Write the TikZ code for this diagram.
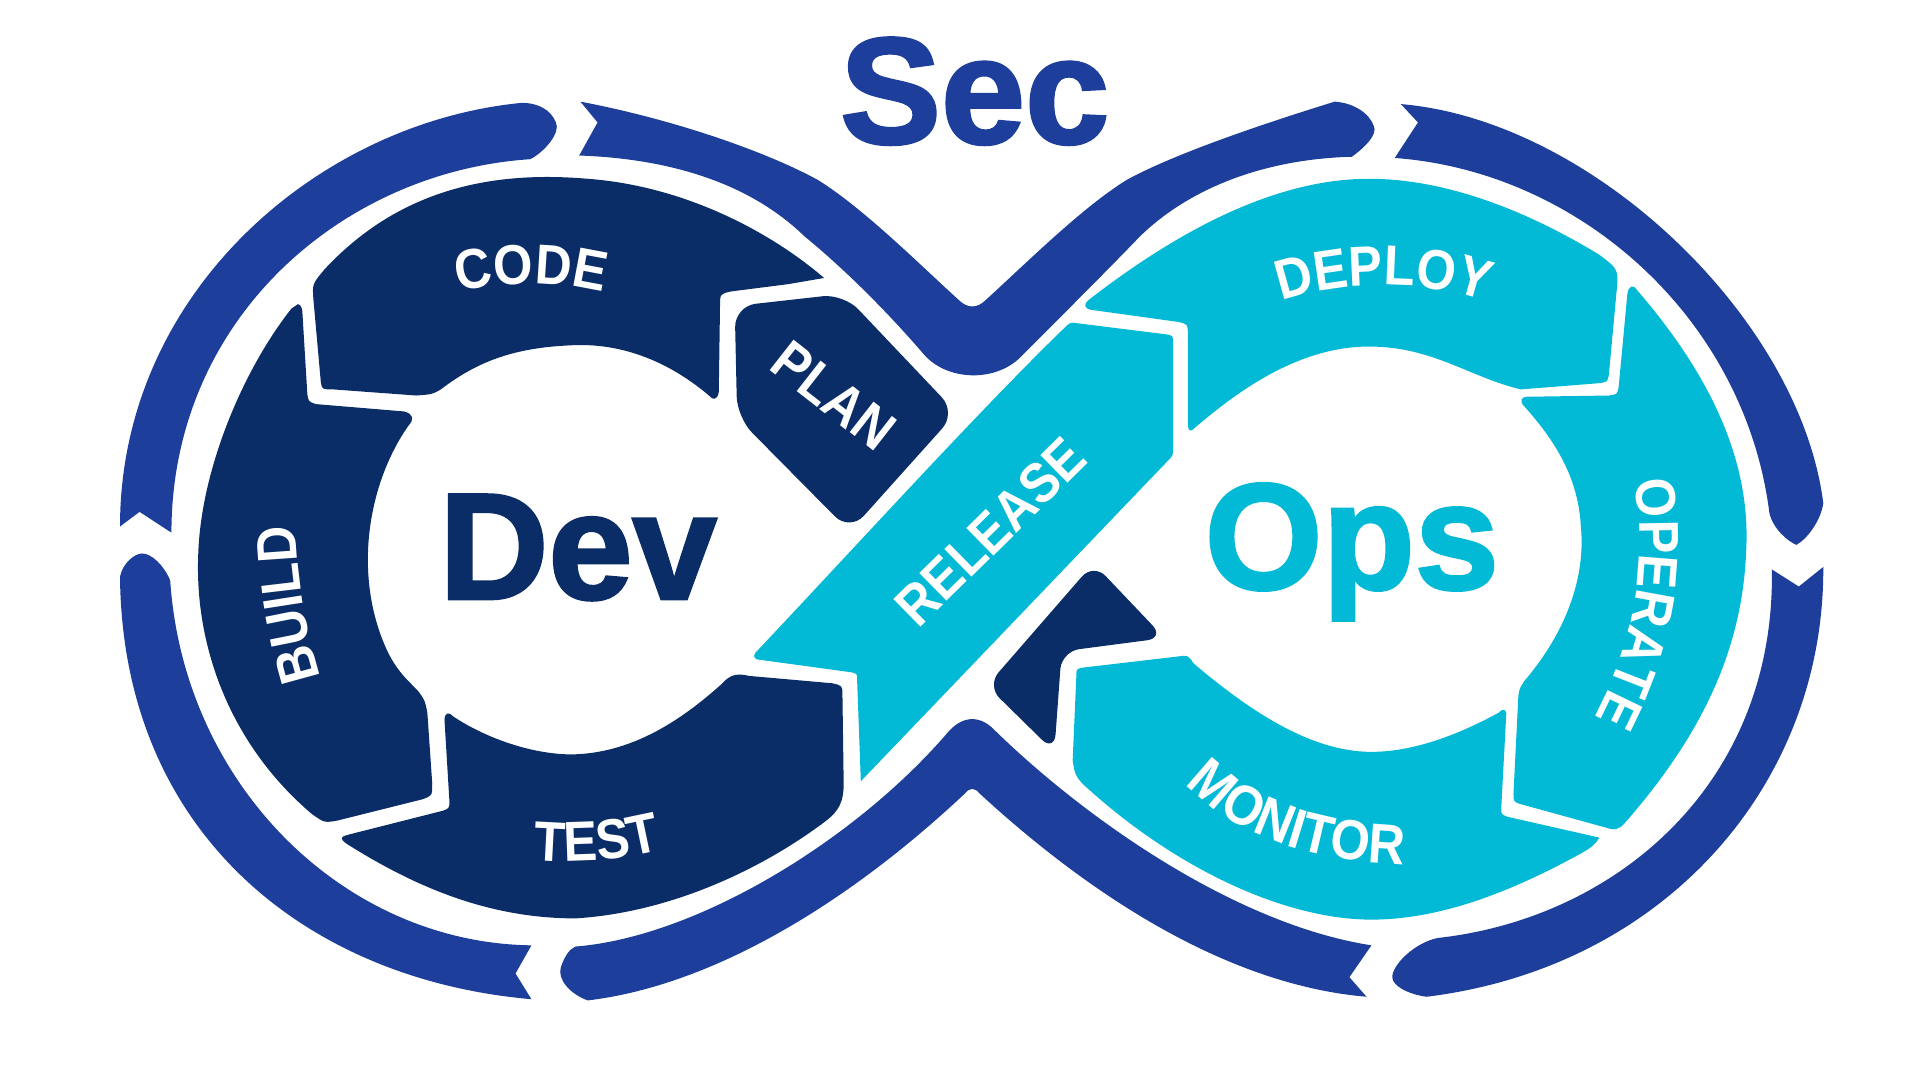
\documentclass[tikz,border=0pt]{standalone}
\usepackage{fontspec}
\setmainfont{Liberation Sans}
\newfontfamily\stagefamily{Liberation Sans}[FakeStretch=0.9]
\newfontfamily\bigfamily{Liberation Sans}[FakeBold=2]
\usetikzlibrary{decorations.text}

\definecolor{secblue}{HTML}{1D3F9B}
\definecolor{devnavy}{HTML}{0A2D67}
\definecolor{opscyan}{HTML}{02B9D6}

\newcommand{\stagefont}{\stagefamily\fontsize{16}{17}\selectfont\bfseries}

\tikzset{
  band/.style={fill=secblue},
  devpart/.style={fill=devnavy},
  opspart/.style={fill=opscyan},
  bigword/.style={font=\bigfamily\fontsize{43}{43}\selectfont\bfseries, inner sep=0pt, anchor=base},
  steptext/.style={font=\stagefont, text=white, inner sep=0pt},
  curvedstep/.style={decorate, decoration={text along path, text align=center, text color=white, text={|\stagefont|#1}}}
}

\begin{document}
\begin{tikzpicture}[x=0.012245cm, y=-0.012245cm]

\useasboundingbox (0,0) rectangle (1568,882);

% outer band, left lobe
\fill[band] (98,430) -- (114,418) -- (140,435) .. controls (140,260) and (280,140) .. (433,130)
  .. controls (445,124) and (458,108) .. (454,100) .. controls (450,90) and (440,84) .. (426,84)
  .. controls (260,100) and (98,239) .. (98,430) -- cycle;
\fill[band] (434,772) -- (421,795) -- (434,816) .. controls (250,800) and (100,680) .. (98,471)
  .. controls (100,460) and (110,452) .. (116,452) .. controls (124,452) and (134,462) .. (139,474)
  .. controls (150,640) and (280,770) .. (434,772) -- cycle;

% outer band, middle
\fill[band] (474,83) -- (488,100) -- (473,127) .. controls (558,130) and (618,155) .. (657,193)
  .. controls (690,220) and (725,255) .. (755,290) .. controls (775,312) and (815,312) .. (835,290)
  .. controls (870,255) and (905,220) .. (931,193) .. controls (970,155) and (1030,130) .. (1104,128)
  .. controls (1115,120) and (1125,110) .. (1122,103) .. controls (1118,92) and (1105,84) .. (1090,83)
  .. controls (1035,100) and (960,125) .. (920,147) .. controls (883,170) and (838,215) .. (805,245)
  .. controls (798,252) and (790,252) .. (783,245) .. controls (750,215) and (705,170) .. (668,147)
  .. controls (628,125) and (553,98) .. (474,83) -- cycle;
\fill[band] (1120,772) -- (1102,798) -- (1116,814) .. controls (1010,805) and (900,740) .. (800,648)
  .. controls (796,643) and (792,643) .. (788,648) .. controls (690,740) and (580,805) .. (480,817)
  .. controls (466,812) and (455,800) .. (458,790) .. controls (461,781) and (465,775) .. (470,773)
  .. controls (570,765) and (700,685) .. (775,597) .. controls (787,584) and (801,584) .. (813,597)
  .. controls (888,670) and (1010,755) .. (1120,772) -- cycle;

% outer band, right lobe
\fill[band] (1144,85) -- (1158,100) -- (1139,129) .. controls (1290,140) and (1425,260) .. (1445,419)
  .. controls (1448,432) and (1460,442) .. (1467,445) .. controls (1476,440) and (1487,425) .. (1489,411)
  .. controls (1470,260) and (1300,98) .. (1144,85) -- cycle;
\fill[band] (1447,465) -- (1469,479) -- (1489,463) .. controls (1490,640) and (1360,790) .. (1165,814)
  .. controls (1150,812) and (1137,805) .. (1137,798) .. controls (1137,788) and (1155,770) .. (1174,766)
  .. controls (1320,750) and (1450,640) .. (1447,465) -- cycle;

% dev ring
\fill[devpart] (262,312) -- (256,245) .. controls (255,232) .. (265,220) .. controls (330,150) and (410,140) .. (480,146)
  .. controls (560,152) and (630,190) .. (673,227) -- (644,232) -- (597,238) .. controls (588,240) .. (588,250)
  -- (587,320) .. controls (586,327) and (582,327) .. (579,323) .. controls (540,290) and (500,280) .. (466,282)
  .. controls (420,284) and (390,295) .. (360,318) .. controls (353,322) .. (340,323) -- (272,318) .. controls (263,318) .. (262,312) -- cycle;
\fill[devpart, rounded corners=6] (600,250) -- (689,240) -- (781,337) -- (694,434) -- (602,341) -- cycle;
\fill[devpart] (241,250) .. controls (244,246) and (247,250) .. (247,256) -- (251,322) .. controls (252,328) .. (258,330)
  -- (330,336) .. controls (338,338) and (338,343) .. (334,347) .. controls (300,395) and (288,470) .. (316,531)
  .. controls (325,550) and (335,557) .. (342,565) .. controls (347,572) .. (349,582) -- (353,640) .. controls (353,650) .. (344,653)
  -- (276,670) .. controls (265,672) .. (255,665) .. controls (190,610) and (158,530) .. (162,450)
  .. controls (165,380) and (200,300) .. (238,252) -- cycle;
\fill[devpart] (283,689) .. controls (276,684) and (279,683) .. (287,681) -- (362,662) .. controls (367,660) .. (367,654)
  -- (363,588) .. controls (363,582) and (367,581) .. (370,585) .. controls (400,605) and (440,617) .. (470,616)
  .. controls (520,614) and (560,585) .. (590,558) .. controls (597,550) and (603,550) .. (612,552) -- (680,558)
  .. controls (688,560) .. (688,568) -- (689,640) .. controls (689,655) and (685,662) .. (675,670)
  .. controls (625,708) and (550,745) .. (470,750) .. controls (400,750) and (340,725) .. (283,689) -- cycle;
\fill[devpart, rounded corners=5] (893,460) -- (951,521) -- (867,532) -- (861,614) -- (806,560) -- cycle;

% ops ring
\fill[opspart] (868,269) .. controls (800,335) and (700,445) .. (617,533) .. controls (614,537) and (617,539) .. (622,539)
  -- (695,549) .. controls (700,550) .. (700,556) -- (703,638) -- (954,376) .. controls (958,372) .. (958,365)
  -- (958,280) .. controls (958,274) .. (952,273) -- (880,264) .. controls (874,263) .. (868,269) -- cycle;
\fill[opspart] (891,253) .. controls (885,252) and (885,248) .. (889,245) .. controls (960,190) and (1040,146) .. (1118,146)
  .. controls (1190,146) and (1260,180) .. (1306,208) .. controls (1322,220) .. (1320,240) -- (1314,305)
  .. controls (1313,312) .. (1305,313) -- (1242,318) .. controls (1200,308) and (1170,283) .. (1118,283)
  .. controls (1060,283) and (1010,320) .. (975,350) .. controls (971,354) and (970,350) .. (970,345)
  -- (970,272) .. controls (970,265) .. (963,263) -- cycle;
\fill[opspart] (1329,240) .. controls (1330,233) and (1334,232) .. (1337,237) .. controls (1400,310) and (1430,380) .. (1426,450)
  .. controls (1423,530) and (1390,600) .. (1327,672) .. controls (1322,678) and (1318,678) .. (1312,676)
  -- (1243,657) .. controls (1236,655) .. (1236,648) -- (1240,568) .. controls (1241,562) .. (1245,556)
  .. controls (1280,515) and (1295,470) .. (1291,430) .. controls (1289,390) and (1270,360) .. (1245,332)
  .. controls (1240,327) and (1243,324) .. (1247,324) -- (1314,323) .. controls (1321,322) .. (1322,315) -- cycle;
\fill[opspart] (876,621) -- (879,552) .. controls (879,546) .. (886,545) -- (963,536) .. controls (970,535) .. (975,542)
  .. controls (1020,580) and (1070,614) .. (1120,614) .. controls (1160,614) and (1200,595) .. (1224,582)
  .. controls (1227,578) and (1231,579) .. (1230,585) -- (1226,660) .. controls (1226,665) .. (1231,667)
  -- (1306,684) .. controls (1303,690) and (1298,693) .. (1291,697) .. controls (1240,725) and (1180,751) .. (1120,751)
  .. controls (1050,751) and (960,710) .. (884,640) .. controls (878,633) .. (876,621) -- cycle;

% big words
\node[bigword, text=secblue] (sec) at (796,117) {Sec};
\node[bigword, text=devnavy] (dev) at (472,489) {Dev};
\node[bigword, text=opscyan] (ops) at (1104,481) {Ops};

% stage labels
\node[steptext, rotate=-38] (plan) at (681,323) {PLAN};
\node[steptext, rotate=44.5] (release) at (809,434) {RELEASE};
\path[curvedstep=CODE] (344,252) .. controls (384,225) and (484,225) .. (524,252);
\path[curvedstep=BUILD] (275,590) .. controls (250,530) and (240,470) .. (240,390);
\path[curvedstep=TEST] (400,695) .. controls (445,710) and (525,705) .. (575,682);
\path[curvedstep=DEPLOY] (1020,260) .. controls (1070,224) and (1190,224) .. (1240,260);
\path[curvedstep=OPERATE] (1328,360) .. controls (1348,440) and (1345,520) .. (1285,615);
\path[curvedstep=MONITOR] (945,610) .. controls (985,675) and (1060,710) .. (1185,706);

\end{tikzpicture}
\end{document}
